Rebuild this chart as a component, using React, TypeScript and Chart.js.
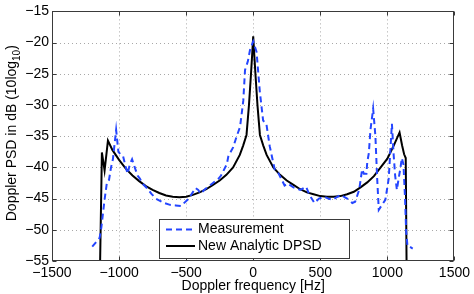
import React, { useEffect, useRef } from "react";
import { Chart, registerables } from "chart.js";

Chart.register(...registerables);

const freqAnalytic = [
  -1145, -1128, -1108, -1083, -1050, -1000, -950, -900, -850, -800, -750, -700, -650, -600, -550,
  -500, -450, -400, -350, -300, -250, -200, -150, -100, -75, -50, -32, -17, -8, 0,
  8, 17, 32, 50, 75, 100, 150, 200, 250, 300, 350, 400, 450, 500, 550,
  600, 650, 700, 750, 800, 850, 900, 950, 1000, 1050, 1091, 1110, 1125, 1137, 1145,
];
const psdAnalytic = [
  -60, -37.6, -40.5, -35.7, -37.2, -38.8, -40.2, -41.3, -42.2, -43.0, -43.6, -44.1, -44.5, -44.7, -44.8,
  -44.7, -44.4, -44.0, -43.5, -42.8, -42.1, -41.2, -40.0, -38.0, -36.5, -34.8, -30.1, -25.2, -22.0, -19.0,
  -22.0, -25.2, -30.1, -34.8, -36.5, -38.0, -40.0, -41.2, -42.1, -42.8, -43.5, -44.0, -44.3, -44.6, -44.7,
  -44.7, -44.6, -44.3, -43.9, -43.2, -42.4, -41.4, -40.0, -38.6, -36.4, -34.4, -36.5, -37.9, -38.5, -60,
];

const freqMeas = [
  -1200, -1145, -1132, -1110, -1090, -1075, -1060, -1046, -1022, -1005, -985, -970, -950, -936, -920,
  -903, -880, -862, -845, -825, -788, -760, -726, -665, -620, -578, -540, -520, -480, -431,
  -410, -394, -360, -300, -258, -240, -197, -185, -150, -123, -98, -74, -61, -40, -24,
  0, 25, 49, 74, 98, 123, 160, 185, 234, 258, 300, 350, 394, 419, 456,
  490, 530, 560, 591, 620, 652, 700, 739, 760, 790, 812, 825, 844, 850, 862,
  874, 894, 911, 923, 936, 960, 985, 1010, 1034, 1046, 1058, 1071, 1084, 1096, 1108,
  1120, 1132, 1140, 1150, 1157, 1189,
];
const psdMeas = [
  -52.7, -51.3, -49.6, -45.5, -42.3, -42.0, -40.0, -38.7, -34.0, -37.5, -38.0, -38.2, -40.0, -41.0, -39.5,
  -38.7, -40.2, -41.3, -41.8, -42.6, -43.4, -44.2, -45.0, -45.7, -46.0, -46.1, -46.2, -45.8, -45.0, -43.3,
  -43.6, -44.2, -43.5, -42.5, -41.8, -41.3, -39.5, -38.2, -36.8, -35.0, -33.5, -29.3, -24.4, -23.0, -21.2,
  -19.8, -21.5, -27.8, -32.5, -33.0, -36.6, -40.3, -40.8, -42.9, -42.6, -43.2, -43.6, -43.1, -44.4, -45.7,
  -45.0, -44.7, -45.0, -45.2, -44.8, -44.4, -45.0, -45.7, -45.5, -43.6, -40.3, -41.0, -41.0, -39.2, -37.7,
  -34.0, -30.6, -35.0, -41.3, -46.8, -46.0, -45.2, -41.8, -33.0, -37.7, -41.3, -43.6, -41.8, -40.3, -38.5,
  -39.5, -45.0, -50.2, -52.6, -52.6, -53.0,
];

const xTicks = [-1500, -1000, -500, 0, 500, 1000, 1500];
const yTicks = [-55, -50, -45, -40, -35, -30, -25, -20, -15];

const seriesNames = ["Measurement", "New Analytic DPSD"];
const xTitle = "Doppler frequency [Hz]";
const yTitleMain = "Doppler PSD in dB (10log";
const yTitleSub = "10";
const yTitleEnd = ")";

const FONT = "'Liberation Sans', Arial, Helvetica, sans-serif";
const BLUE = "#2445ff";

const fmt = (v: number) => String(v).replace("-", "\u2212");

const framePlugin = {
  id: "matlabFrame",
  beforeDatasetsDraw(chart: any) {
    const { ctx, chartArea } = chart;
    const { left, right, top, bottom } = chartArea;
    const xs = chart.scales.x;
    const ys = chart.scales.y;
    ctx.save();
    ctx.strokeStyle = "#a8a8a8";
    ctx.lineWidth = 1;
    ctx.setLineDash([1, 3]);
    xTicks.forEach((v) => {
      const px = Math.round(xs.getPixelForValue(v)) + 0.5;
      if (px <= left + 1 || px >= right - 1) return;
      ctx.beginPath();
      ctx.moveTo(px, top);
      ctx.lineTo(px, bottom);
      ctx.stroke();
    });
    yTicks.forEach((v) => {
      const py = Math.round(ys.getPixelForValue(v)) + 0.5;
      if (py <= top + 1 || py >= bottom - 1) return;
      ctx.beginPath();
      ctx.moveTo(left, py);
      ctx.lineTo(right, py);
      ctx.stroke();
    });
    ctx.restore();
  },
  afterDatasetsDraw(chart: any) {
    const { ctx, chartArea } = chart;
    const { left, right, top, bottom } = chartArea;
    const xs = chart.scales.x;
    const ys = chart.scales.y;
    ctx.save();
    ctx.strokeStyle = "#3a3a3a";
    ctx.lineWidth = 1;
    ctx.setLineDash([]);
    const L = Math.round(left) + 0.5;
    const R = Math.round(right) - 0.5;
    const T = Math.round(top) + 0.5;
    const B = Math.round(bottom) - 0.5;
    ctx.strokeRect(L, T, R - L, B - T);
    const tl = 4;
    xTicks.forEach((v) => {
      const px = Math.round(xs.getPixelForValue(v)) + 0.5;
      ctx.beginPath();
      ctx.moveTo(px, B);
      ctx.lineTo(px, B - tl);
      ctx.moveTo(px, T);
      ctx.lineTo(px, T + tl);
      ctx.stroke();
    });
    yTicks.forEach((v) => {
      const py = Math.round(ys.getPixelForValue(v)) + 0.5;
      ctx.beginPath();
      ctx.moveTo(L, py);
      ctx.lineTo(L + tl, py);
      ctx.moveTo(R, py);
      ctx.lineTo(R - tl, py);
      ctx.stroke();
    });
    ctx.restore();
  },
  afterDraw(chart: any) {
    const { ctx, chartArea } = chart;
    ctx.save();
    // Axis titles
    ctx.fillStyle = "#000";
    ctx.font = `14px ${FONT}`;
    ctx.textAlign = "center";
    ctx.textBaseline = "middle";
    ctx.fillText(xTitle, (chartArea.left + chartArea.right) / 2, 286);

    ctx.save();
    ctx.translate(11, (chartArea.top + chartArea.bottom) / 2 - 3);
    ctx.rotate(-Math.PI / 2);
    ctx.font = `14px ${FONT}`;
    const w1 = ctx.measureText(yTitleMain).width;
    ctx.font = `10px ${FONT}`;
    const w2 = ctx.measureText(yTitleSub).width;
    ctx.font = `14px ${FONT}`;
    const w3 = ctx.measureText(yTitleEnd).width;
    const total = w1 + w2 + w3;
    let x0 = -total / 2;
    ctx.textAlign = "left";
    ctx.textBaseline = "alphabetic";
    ctx.fillText(yTitleMain, x0, 5);
    x0 += w1;
    ctx.font = `10px ${FONT}`;
    ctx.fillText(yTitleSub, x0, 9);
    x0 += w2;
    ctx.font = `14px ${FONT}`;
    ctx.fillText(yTitleEnd, x0, 5);
    ctx.restore();

    // Legend
    const lx = 159.5, ly = 219.5, lw = 190, lh = 39;
    ctx.fillStyle = "#fff";
    ctx.fillRect(lx, ly, lw, lh);
    ctx.strokeStyle = "#3a3a3a";
    ctx.lineWidth = 1;
    ctx.strokeRect(lx, ly, lw, lh);
    const rows = [
      { y: 229.5, color: BLUE, dash: [6, 4] },
      { y: 246, color: "#000", dash: [] as number[] },
    ];
    rows.forEach((r, i) => {
      ctx.strokeStyle = r.color;
      ctx.lineWidth = 2;
      ctx.setLineDash(r.dash);
      ctx.beginPath();
      ctx.moveTo(166, r.y);
      ctx.lineTo(195, r.y);
      ctx.stroke();
      ctx.setLineDash([]);
      ctx.fillStyle = "#000";
      ctx.font = `14px ${FONT}`;
      ctx.textAlign = "left";
      ctx.textBaseline = "middle";
      ctx.fillText(seriesNames[i], 198, r.y);
    });
    ctx.restore();
  },
};

export default function App() {
  const canvasRef = useRef<HTMLCanvasElement | null>(null);

  useEffect(() => {
    if (!canvasRef.current) return;
    const chart = new Chart(canvasRef.current, {
      type: "line",
      data: {
        datasets: [
          {
            label: seriesNames[0],
            data: freqMeas.map((f, i) => ({ x: f, y: psdMeas[i] })),
            borderColor: BLUE,
            borderWidth: 2,
            borderDash: [6, 4],
            pointRadius: 0,
            tension: 0,
            fill: false,
          },
          {
            label: seriesNames[1],
            data: freqAnalytic.map((f, i) => ({ x: f, y: psdAnalytic[i] })),
            borderColor: "#000",
            borderWidth: 2,
            pointRadius: 0,
            tension: 0,
            fill: false,
          },
        ],
      },
      options: {
        animation: false,
        responsive: false,
        maintainAspectRatio: false,
        layout: { padding: { top: 5, right: 16, left: 0, bottom: 0 } },
        plugins: { legend: { display: false }, tooltip: { enabled: false } },
        scales: {
          x: {
            type: "linear",
            min: -1500,
            max: 1500,
            afterBuildTicks: (s: any) => {
              s.ticks = xTicks.map((v) => ({ value: v }));
            },
            afterFit: (s: any) => {
              s.height = 33;
            },
            ticks: {
              callback: (v: any) => fmt(v),
              color: "#000",
              font: { family: FONT, size: 14 },
              padding: 4,
              maxRotation: 0,
              autoSkip: false,
            },
            grid: { display: false, drawTicks: false },
            border: { display: false },
          },
          y: {
            type: "linear",
            min: -55,
            max: -15,
            afterBuildTicks: (s: any) => {
              s.ticks = yTicks.map((v) => ({ value: v }));
            },
            afterFit: (s: any) => {
              s.width = 52;
            },
            ticks: {
              callback: (v: any) => fmt(v),
              color: "#000",
              font: { family: FONT, size: 14 },
              padding: 3,
              autoSkip: false,
            },
            grid: { display: false, drawTicks: false },
            border: { display: false },
          },
        },
      },
      plugins: [framePlugin],
    } as any);
    return () => chart.destroy();
  }, []);

  return (
    <div style={{ position: "absolute", left: 0, top: 0, width: 474, height: 294, background: "#fff" }}>
      <canvas ref={canvasRef} width={474} height={294} style={{ width: 474, height: 294, display: "block" }} />
    </div>
  );
}
